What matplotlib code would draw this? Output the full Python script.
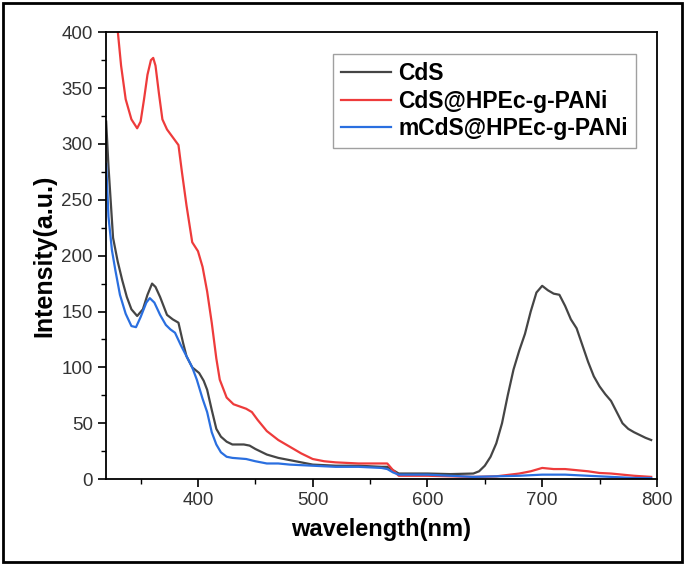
import numpy as np
import matplotlib.pyplot as plt
from matplotlib.patches import Rectangle
from matplotlib.ticker import MultipleLocator

plt.rcParams['font.family'] = ['Liberation Sans', 'DejaVu Sans']

# CdS
cds_x = [320, 322, 326, 330, 334, 338, 342, 347, 352, 356, 360, 363, 367, 373, 378, 383,
         387, 390, 395, 401, 405, 408, 412, 416, 420, 425, 430, 440, 445, 450, 460, 470, 480, 490,
         500, 520, 540, 560, 565, 570, 575, 600, 620, 640, 645, 650, 655, 660, 665, 670, 675,
         680, 685, 690, 695, 700, 705, 710, 715, 720, 725, 730, 735, 740, 745, 750, 755, 760,
         765, 770, 775, 780, 790, 795]
cds_y = [320, 280, 216, 195, 178, 163, 152, 146, 152, 165, 175, 172, 163, 147, 143, 140,
         122, 110, 100, 95, 88, 80, 62, 45, 38, 33.5, 31, 31, 30, 27, 22, 19, 17, 15,
         13, 12, 12, 11, 11, 8, 5, 5, 4.5, 5, 7, 12, 20, 32, 50, 75, 98,
         115, 130, 150, 167, 173, 169, 166, 165, 155, 143, 135, 120, 105, 92, 83, 76, 70,
         60, 50, 45, 42, 37, 35]

# CdS@HPEc-g-PANi
red_x = [325, 330, 333, 337, 342, 347, 350, 353, 356, 359, 361, 363, 366, 369, 373, 378, 383,
         386, 390, 395, 400, 404, 408, 412, 416, 419, 425, 431, 442, 447, 452, 460, 470, 480,
         490, 500, 510, 520, 540, 560, 565, 570, 575, 600, 620, 640, 660, 680, 690, 700, 710,
         720, 730, 740, 750, 760, 780, 795]
red_y = [450, 402, 370, 340, 322, 314, 320, 340, 362, 375, 377, 370, 345, 322, 313, 306, 299,
         275, 245, 212, 204, 190, 168, 140, 108, 89, 73, 67, 63, 60, 53, 43, 35, 29,
         23, 18, 16, 15, 14, 14, 14, 8, 3, 3, 2.5, 2, 2.5, 5, 7, 10, 9,
         9, 8, 7, 5.5, 5, 3, 2]

# mCdS@HPEc-g-PANi
blue_x = [320, 322, 325, 328, 332, 337, 342, 346, 350, 355, 358, 362, 367, 372, 376, 380, 385,
          390, 395, 399, 404, 408, 412, 416, 420, 425, 430, 442, 450, 460, 470, 480, 500, 520,
          540, 560, 565, 570, 575, 600, 640, 680, 700, 720, 740, 760, 780, 795]
blue_y = [282, 235, 205, 187, 165, 148, 137, 136, 145, 158, 162, 158, 147, 138, 134, 131, 120,
          110, 100, 89, 72, 60, 42, 31, 24, 20, 19, 18, 16, 14, 14, 13, 12, 11,
          11, 10, 9, 6, 4, 4, 2, 3, 4, 4, 3, 2, 1, 1]

labels = ['CdS', 'CdS@HPEc-g-PANi', 'mCdS@HPEc-g-PANi']
colors = ['#454545', '#ee3b3b', '#2a6fe0']

fig = plt.figure(figsize=(6.85, 5.65), dpi=100)
ax = fig.add_axes([0.155, 0.152, 0.804, 0.791])

ax.plot(cds_x, cds_y, color=colors[0], lw=1.6, label=labels[0])
ax.plot(red_x, red_y, color=colors[1], lw=1.6, label=labels[1])
ax.plot(blue_x, blue_y, color=colors[2], lw=1.6, label=labels[2])

ax.set_xlim(320, 800)
ax.set_ylim(0, 400)
ax.xaxis.set_major_locator(MultipleLocator(100))
ax.xaxis.set_minor_locator(MultipleLocator(50))
ax.yaxis.set_major_locator(MultipleLocator(50))
ax.yaxis.set_minor_locator(MultipleLocator(25))
ax.tick_params(which='major', direction='out', length=6, width=1.2, labelsize=13.5, colors='black')
ax.tick_params(which='minor', direction='out', length=3.5, width=1.0)
ax.tick_params(labelcolor='#333333')
for s in ax.spines.values():
    s.set_linewidth(1.3)

ax.set_xlabel('wavelength(nm)', fontsize=17, fontweight='bold', labelpad=6)
ax.set_ylabel('Intensity(a.u.)', fontsize=18, fontweight='bold', labelpad=4)

leg = ax.legend(loc='upper right', bbox_to_anchor=(0.962, 0.951),
                prop={'weight': 'bold', 'size': 16.5}, fancybox=False, edgecolor='#888888',
                handlelength=2.2, handletextpad=0.3, borderpad=0.35, labelspacing=0.2,
                borderaxespad=0)
leg.get_frame().set_linewidth(1.0)

fig.patches.append(Rectangle((0.004, 0.005), 0.992, 0.99, transform=fig.transFigure,
                             fill=False, edgecolor='black', lw=2))

fig.savefig('out.png', dpi=100)
